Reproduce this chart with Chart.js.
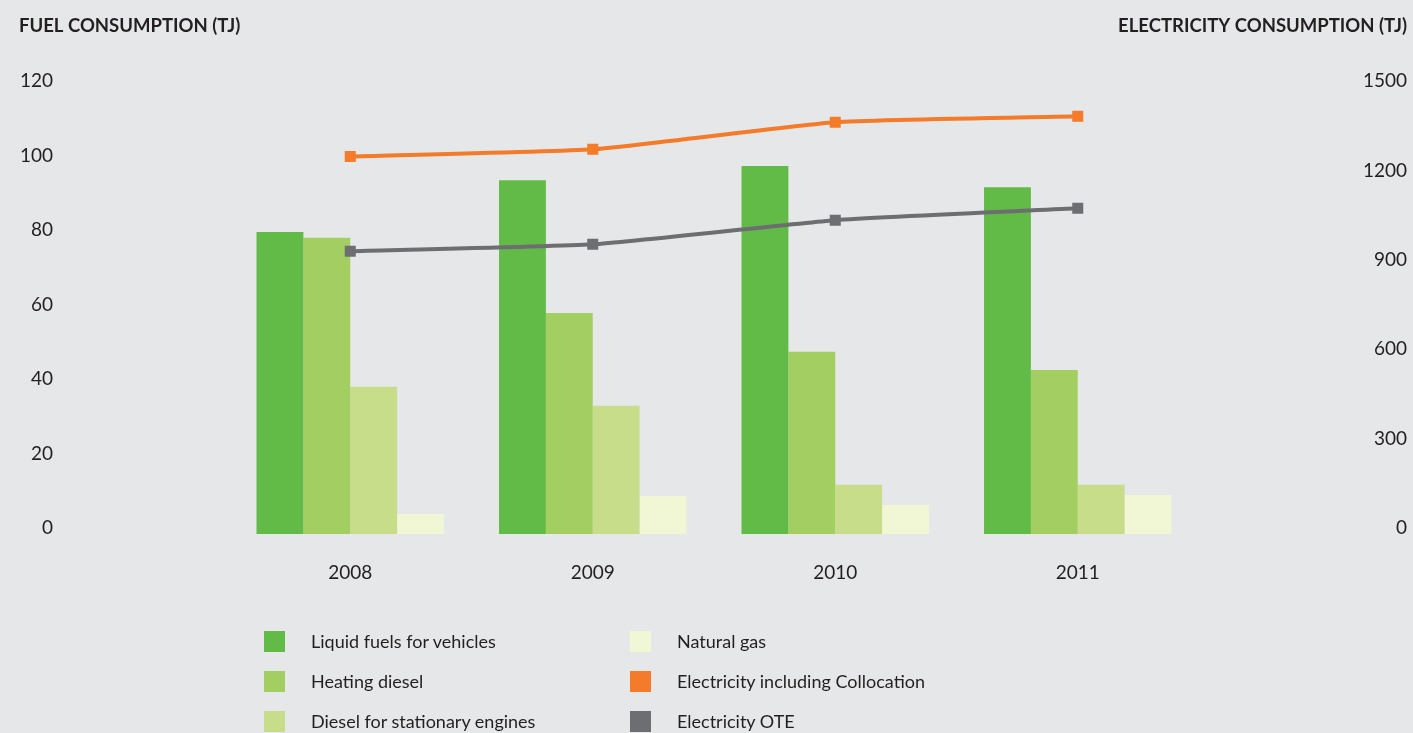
<!DOCTYPE html>
<html>
<head>
<meta charset="utf-8">
<script src="https://cdn.jsdelivr.net/npm/chart.js@4.4.0/dist/chart.umd.min.js"></script>
<style>
  html, body { margin: 0; padding: 0; background: #e6e7e8; }
  #wrap { position: relative; width: 1413px; height: 733px; overflow: hidden; }
  #legend {
    position: absolute; left: 264px; top: 631px;
    display: grid; grid-template-columns: 366px auto;
    grid-template-rows: 40px 40px 40px; grid-auto-flow: column;
    font-family: Lato, sans-serif; font-size: 18px; color: #231f20;
  }
  #legend .item { display: flex; align-items: flex-start; height: 40px; }
  #legend .box { width: 21px; height: 21px; flex: none; }
  #legend .txt { margin-left: 26px; line-height: 21px; }
</style>
</head>
<body>
<div id="wrap">
  <canvas id="chart" width="1413" height="733"></canvas>
  <div id="legend"></div>
</div>
<script>
const years = ['2008', '2009', '2010', '2011'];

// fuel, TJ (left axis)
const liquidFuels = [81.1, 95.0, 98.8, 93.1];
const heatingDiesel = [79.5, 59.3, 48.9, 44.0];
const stationaryDiesel = [39.5, 34.4, 13.2, 13.2];
const naturalGas = [5.4, 10.2, 7.8, 10.5];

// electricity, TJ (right axis)
const elecCollocation = [1267, 1291, 1382, 1402];
const elecOTE = [949, 972, 1053, 1093];

const fuelTicks = [0, 20, 40, 60, 80, 100, 120];
const elecTicks = [0, 300, 600, 900, 1200, 1500];

const legendOrder = [
  'Liquid fuels for vehicles', 'Heating diesel', 'Diesel for stationary engines',
  'Natural gas', 'Electricity including Collocation', 'Electricity OTE'
];

Chart.defaults.font.family = 'Lato, sans-serif';
Chart.defaults.color = '#231f20';

const titles = {
  id: 'titles',
  afterDraw(chart) {
    const ctx = chart.ctx;
    ctx.save();
    ctx.fillStyle = '#231f20';
    ctx.font = 'bold 18.5px Lato, sans-serif';
    ctx.textBaseline = 'middle';
    ctx.textAlign = 'left';
    ctx.fillText('FUEL CONSUMPTION (TJ)', 19, 26);
    ctx.textAlign = 'right';
    ctx.fillText('ELECTRICITY CONSUMPTION (TJ)', 1407, 26);
    ctx.restore();
  }
};

function line(label, data, color) {
  return {
    type: 'line', label, data, yAxisID: 'y2', order: 0,
    borderColor: color, backgroundColor: color, borderWidth: 4,
    pointStyle: 'rect', pointRadius: 7.8, pointHoverRadius: 7.8,
    pointBorderWidth: 0, tension: 0.15
  };
}
function bar(label, data, color) {
  return {
    type: 'bar', label, data, yAxisID: 'y', order: 1,
    backgroundColor: color, borderWidth: 0,
    barPercentage: 1, categoryPercentage: 0.773
  };
}

// keep the big label padding from pushing the plot area down
function noVPad(s) { s.paddingTop = 0; s.paddingBottom = 0; }

const chart = new Chart(document.getElementById('chart'), {
  data: {
    labels: years,
    datasets: [
      line('Electricity including Collocation', elecCollocation, '#f47b2a'),
      line('Electricity OTE', elecOTE, '#6d6e71'),
      bar('Liquid fuels for vehicles', liquidFuels, '#62bb46'),
      bar('Heating diesel', heatingDiesel, '#a3cf62'),
      bar('Diesel for stationary engines', stationaryDiesel, '#c7dd8a'),
      bar('Natural gas', naturalGas, '#f1f6d5')
    ]
  },
  options: {
    responsive: false,
    animation: false,
    layout: { padding: { top: 87, right: 6, left: 0, bottom: 0 } },
    plugins: { legend: { display: false }, tooltip: { enabled: false } },
    scales: {
      x: {
        offset: true,
        grid: { display: false, drawTicks: false },
        border: { display: false },
        ticks: { font: { size: 19 }, padding: 27 },
        afterFit(s) { s.height = 199; s.paddingLeft = 0; s.paddingRight = 0; }
      },
      y: {
        position: 'left', min: 0, max: 120,
        grid: { display: false, drawTicks: false },
        border: { display: false },
        afterBuildTicks(s) { s.ticks = fuelTicks.map(v => ({ value: v })); },
        ticks: { font: { size: 19 }, padding: 176, labelOffset: -6, callback: v => String(v) },
        afterFit(s) { s.width = 229; noVPad(s); }
      },
      y2: {
        position: 'right', min: 0, max: 1500,
        grid: { display: false, drawTicks: false },
        border: { display: false },
        afterBuildTicks(s) { s.ticks = elecTicks.map(v => ({ value: v })); },
        ticks: { font: { size: 19 }, crossAlign: 'far', labelOffset: -6, callback: v => String(v) },
        afterFit(s) { s.width = 208; noVPad(s); }
      }
    }
  },
  plugins: [titles]
});

const legendEl = document.getElementById('legend');
legendOrder.forEach(name => {
  const ds = chart.data.datasets.find(d => d.label === name);
  const item = document.createElement('div');
  item.className = 'item';
  const box = document.createElement('span');
  box.className = 'box';
  box.style.background = ds.backgroundColor;
  const txt = document.createElement('span');
  txt.className = 'txt';
  txt.textContent = name;
  item.appendChild(box);
  item.appendChild(txt);
  legendEl.appendChild(item);
});
</script>
</body>
</html>
